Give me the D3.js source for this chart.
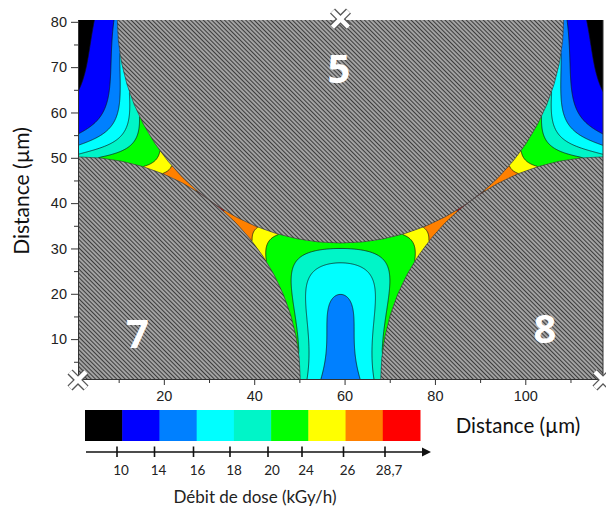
<!DOCTYPE html>
<html><head><meta charset="utf-8">
<script src="https://cdn.jsdelivr.net/npm/d3@7"></script>
<style>body{margin:0;background:#fff}svg{display:block}</style>
</head><body>
<script>
// ---- data ----
const fiberNames = ["7", "8", "5"];
const fiberX = [1, 117.2, 59.1];        // µm
const fiberY = [1, 1, 80.6];            // µm
const fiberR = [49.2, 49.2, 49.4];      // µm
const fiberWeight = [13.6, 13.6, 11.7]; // kGy/h contributed at a fibre surface
const fiberDecay = [10.5, 10.5, 10];    // µm
const background = 3.6;                 // kGy/h
const edgePenalty = 0.83;               // kGy/h lost at the block edges
const edgeLength = 10;                  // µm
const levels = [10, 14, 16, 18, 20, 24, 26, 28.7];
const levelLabels = ["10", "14", "16", "18", "20", "24", "26", "28,7"];
const bandColors = ["#000000", "#0000ff", "#0080ff", "#00ffff", "#00f5c8", "#00ff00", "#ffff00", "#ff8000", "#ff0000"];
const xTicks = [20, 40, 60, 80, 100];
const yTicks = [10, 20, 30, 40, 50, 60, 70, 80];

const W = 606, H = 511;
const svg = d3.select("body").append("svg").attr("width", W).attr("height", H);
const xDom = [1, 117.2], yDom = [1.2, 80.4];
const x = d3.scaleLinear(xDom, [78, 603]);
const y = d3.scaleLinear(yDom, [379, 20]);

const defs = svg.append("defs");
const pat = defs.append("pattern").attr("id", "hatch").attr("patternUnits", "userSpaceOnUse")
  .attr("width", 3).attr("height", 3).attr("patternTransform", "rotate(-45)");
pat.append("rect").attr("width", 3).attr("height", 3).attr("fill", "#858585");
pat.append("rect").attr("x", 0).attr("width", 1).attr("height", 3).attr("fill", "#3c3c3c");
pat.append("rect").attr("x", 1.6).attr("width", 0.8).attr("height", 3).attr("fill", "#cfcfcf");
defs.append("clipPath").attr("id", "plotclip").append("rect")
  .attr("x", 78).attr("y", 20).attr("width", 525).attr("height", 359);

// ---- field ----
function dose(px, py) {
  let v = background;
  for (let k = 0; k < fiberX.length; k++) {
    const d = Math.max(0, Math.hypot(px - fiberX[k], py - fiberY[k]) - fiberR[k]);
    v += fiberWeight[k] * Math.exp(-d / fiberDecay[k]);
  }
  const e = [px - xDom[0], xDom[1] - px, py - yDom[0], yDom[1] - py];
  e.forEach(dd => { v -= edgePenalty * Math.exp(-Math.max(0, dd) / edgeLength); });
  return v;
}
const gx0 = -1, gx1 = 119.2, gy0 = -0.8, gy1 = 82.4;
const n = 560, m = 380;
const vals = new Float64Array(n * m);
for (let j = 0; j < m; j++) {
  const dy = gy1 - (gy1 - gy0) * j / (m - 1);
  for (let i = 0; i < n; i++) {
    const dx = gx0 + (gx1 - gx0) * i / (n - 1);
    vals[i + j * n] = dose(dx, dy);
  }
}
const contours = d3.contours().size([n, m]).thresholds(levels)(vals);
const proj = d3.geoTransform({
  point: function (gx, gy) {
    const dx = gx0 + (gx1 - gx0) * (gx - 0.5) / (n - 1);
    const dy = gy1 - (gy1 - gy0) * (gy - 0.5) / (m - 1);
    this.stream.point(x(dx), y(dy));
  }
});
const path = d3.geoPath(proj);

const plot = svg.append("g").attr("clip-path", "url(#plotclip)");
plot.append("rect").attr("x", 78).attr("y", 20).attr("width", 525).attr("height", 359).attr("fill", bandColors[0]);
plot.selectAll("path.band").data(contours).join("path").attr("class", "band")
  .attr("d", path).attr("fill", (d, i) => bandColors[i + 1])
  .attr("stroke", "#111").attr("stroke-width", 0.7);

// fibers
plot.selectAll("ellipse.fiber").data(fiberX.map((fx, k) => k)).join("ellipse").attr("class", "fiber")
  .attr("cx", k => x(fiberX[k])).attr("cy", k => y(fiberY[k]))
  .attr("rx", k => x(fiberX[k] + fiberR[k]) - x(fiberX[k]))
  .attr("ry", k => y(fiberY[k]) - y(fiberY[k] + fiberR[k]))
  .attr("fill", "url(#hatch)").attr("stroke", "#333").attr("stroke-width", 0.6);

// fiber numbers
plot.selectAll("text.num").data([0, 1, 2]).join("text").attr("class", "num")
  .attr("x", k => [137.5, 545, 339][k]).attr("y", k => [348, 343, 83][k])
  .attr("text-anchor", "middle").attr("font-family", "'Open Sans', sans-serif").attr("font-weight", 700)
  .attr("font-size", 40).attr("fill", "#fff").text(k => fiberNames[k]);

// frame
svg.append("line").attr("x1", 603).attr("x2", 603).attr("y1", 20).attr("y2", 379).attr("stroke", "#333").attr("stroke-width", 1);

// axes
const axisFont = "'Liberation Sans', Arial, sans-serif";
svg.append("g").attr("transform", "translate(78,0)")
  .call(d3.axisLeft(y).tickValues(yTicks).tickSize(7).tickSizeOuter(0).tickPadding(4));
svg.append("g").attr("transform", "translate(78,0)")
  .call(d3.axisLeft(y).tickValues(d3.range(5, 80, 10)).tickSize(4).tickFormat("").tickSizeOuter(0))
  .select(".domain").remove();
svg.append("g").attr("transform", "translate(0,379)")
  .call(d3.axisBottom(x).tickValues(xTicks).tickSize(6).tickSizeOuter(0).tickPadding(6));
svg.append("g").attr("transform", "translate(0,379)")
  .call(d3.axisBottom(x).tickValues([10, 30, 50, 70, 90, 110]).tickSize(4).tickFormat("").tickSizeOuter(0))
  .select(".domain").remove();
svg.selectAll(".tick text").attr("font-family", axisFont).attr("font-size", 14.5).attr("fill", "#222");
svg.selectAll(".tick line").attr("stroke", "#333");
svg.selectAll(".domain").attr("stroke", "#333");

// X markers at fiber centres
const markers = svg.append("g");
fiberX.forEach((fx, k) => {
  const g = markers.append("g").attr("transform", `translate(${x(fx)},${y(fiberY[k])})`);
  const s = 8;
  [["#555", 7], ["#fff", 4.5]].forEach(([c, w]) => {
    g.append("line").attr("x1", -s).attr("y1", -s).attr("x2", s).attr("y2", s).attr("stroke", c).attr("stroke-width", w);
    g.append("line").attr("x1", -s).attr("y1", s).attr("x2", s).attr("y2", -s).attr("stroke", c).attr("stroke-width", w);
  });
});

// axis titles
const titleFont = "Lato, 'Open Sans', sans-serif";
svg.append("text").attr("transform", "translate(29,191) rotate(-90)").attr("text-anchor", "middle")
  .attr("font-family", titleFont).attr("font-size", 21).attr("fill", "#111").text("Distance (µm)");
svg.append("text").attr("x", 518).attr("y", 433).attr("text-anchor", "middle")
  .attr("font-family", titleFont).attr("font-size", 20.5).attr("fill", "#111").text("Distance (µm)");

// legend colour bar
const lx = d3.scaleBand().domain(d3.range(bandColors.length)).range([85, 420]).padding(0);
svg.append("g").selectAll("rect").data(bandColors).join("rect")
  .attr("x", (c, i) => lx(i)).attr("y", 410).attr("width", lx.bandwidth() + 0.5).attr("height", 31).attr("fill", c => c);
// legend arrow axis
const legendTickX = d3.scaleOrdinal().domain(levels).range([117, 154.5, 193.5, 230, 268, 302, 343.5, 385]);
const la = svg.append("g");
la.append("line").attr("x1", 86).attr("x2", 425).attr("y1", 452).attr("y2", 452).attr("stroke", "#111").attr("stroke-width", 1.6);
la.append("path").attr("d", "M431,452 L422,447.5 L422,456.5 Z").attr("fill", "#111");
la.selectAll("line.t").data(levels).join("line").attr("class", "t")
  .attr("x1", d => legendTickX(d)).attr("x2", d => legendTickX(d)).attr("y1", 446.5).attr("y2", 457)
  .attr("stroke", "#111").attr("stroke-width", 1.6);
la.selectAll("text").data(levels).join("text")
  .attr("x", d => legendTickX(d) + 4).attr("y", 475).attr("text-anchor", "middle")
  .attr("font-family", titleFont).attr("font-size", 13.5).attr("fill", "#222").text((d, i) => levelLabels[i]);
svg.append("text").attr("x", 255).attr("y", 503).attr("text-anchor", "middle")
  .attr("font-family", titleFont).attr("font-size", 17).attr("fill", "#222").text("Débit de dose (kGy/h)");
</script>
</body></html>
